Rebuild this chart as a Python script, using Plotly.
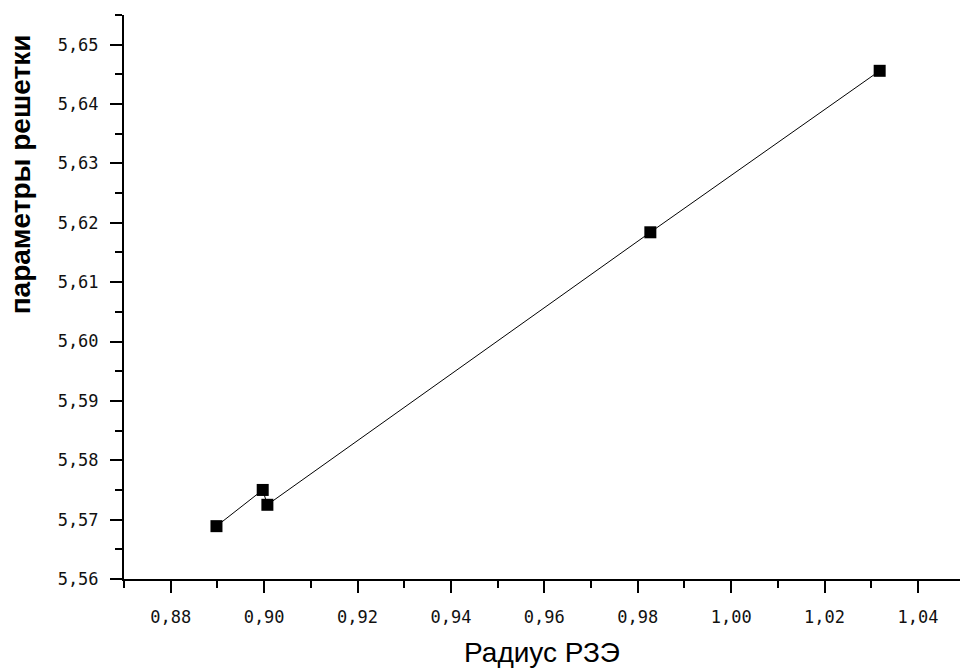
import plotly.graph_objects as go

radius = [0.8898, 0.8997, 0.9007, 0.9827, 1.0318]
lattice = [5.5689, 5.5750, 5.5725, 5.6184, 5.6456]

x_title = "Радиус РЗЭ"
y_title = "параметры решетки"

fig = go.Figure()
fig.add_trace(go.Scatter(
    x=radius, y=lattice, mode="lines+markers",
    line=dict(color="black", width=1),
    marker=dict(symbol="square", size=12, color="black"),
    showlegend=False,
))

tickfont = dict(family="DejaVu Sans Mono", size=17, color="#111")
fig.update_layout(
    width=961, height=670,
    margin=dict(l=124, r=1, t=15, b=91),
    plot_bgcolor="white", paper_bgcolor="white",
    separators=", ",
    xaxis=dict(
        range=[0.87, 1.049], dtick=0.02, tick0=0.88, tickformat=".2f",
        showgrid=False, zeroline=False,
        showline=True, linecolor="black", linewidth=2,
        ticks="outside", ticklen=12, tickwidth=2, tickcolor="black",
        minor=dict(dtick=0.01, tick0=0.87, ticks="outside", ticklen=7, tickwidth=2, tickcolor="black"),
        tickfont=tickfont, ticklabelstandoff=10,
        title=dict(text=x_title, font=dict(family="Liberation Sans, Arial", size=28, color="black"), standoff=16),
    ),
    yaxis=dict(
        range=[5.56, 5.655], dtick=0.01, tick0=5.56, tickformat=".2f",
        showgrid=False, zeroline=False,
        showline=True, linecolor="black", linewidth=2,
        ticks="outside", ticklen=12, tickwidth=2, tickcolor="black",
        minor=dict(dtick=0.005, tick0=5.56, ticks="outside", ticklen=7, tickwidth=2, tickcolor="black"),
        tickfont=tickfont, ticklabelstandoff=8,
    ),
    annotations=[dict(
        text="<b>" + y_title + "</b>", textangle=-90,
        xref="paper", yref="paper", x=-0.124, y=(579 - 174) / 564,
        xanchor="center", yanchor="middle", showarrow=False,
        font=dict(family="Liberation Sans, Arial", size=28, color="black"),
    )],
)

fig.write_html("out.html")
